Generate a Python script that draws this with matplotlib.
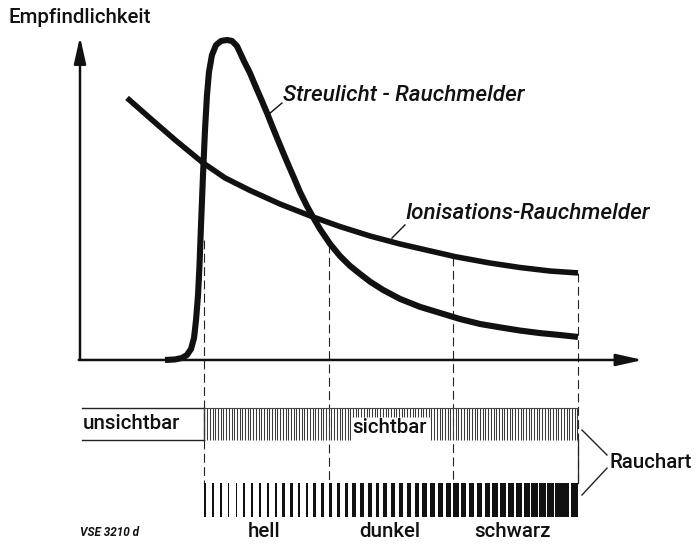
import numpy as np
import matplotlib
matplotlib.use("Agg")
import matplotlib.pyplot as plt

# sensitivity curves, x = smoke density (dashed marks at 1..4), y = Empfindlichkeit
streu_x = [0.683, 0.763, 0.819, 0.859, 0.892, 0.916, 0.932, 0.948, 0.960, 0.972,
           0.988, 1.004, 1.020, 1.036, 1.060, 1.092, 1.133, 1.181, 1.221, 1.261,
           1.317, 1.365, 1.406, 1.454, 1.502, 1.550, 1.606, 1.663, 1.719, 1.767,
           1.823, 1.871, 1.928, 2.008, 2.088, 2.169, 2.249, 2.329, 2.434, 2.570,
           2.731, 2.892, 3.052, 3.213, 3.373, 3.534, 3.695, 3.855, 4.0]
streu_y = [0.0, 0.016, 0.063, 0.156, 0.344, 0.688, 1.25, 2.03, 2.97, 4.22,
           5.78, 7.19, 8.28, 9.0, 9.53, 9.84, 9.97, 10.0, 9.97, 9.81,
           9.34, 8.97, 8.59, 8.16, 7.72, 7.25, 6.72, 6.19, 5.69, 5.25,
           4.81, 4.47, 4.09, 3.63, 3.25, 2.94, 2.69, 2.45, 2.19, 1.91,
           1.66, 1.47, 1.28, 1.125, 1.02, 0.92, 0.84, 0.78, 0.72]

ion_x = [0.378, 0.562, 0.763, 0.988, 1.165, 1.365, 1.606, 1.871, 2.088,
         2.329, 2.570, 2.811, 3.012, 3.293, 3.534, 3.775, 4.0]
ion_y = [8.19, 7.56, 6.88, 6.16, 5.69, 5.30, 4.875, 4.47, 4.17,
         3.875, 3.625, 3.41, 3.23, 3.03, 2.89, 2.78, 2.72]

# dashed guide lines: positions and where they start
guide_x = [1, 2, 3, 4]
guide_top = [3.75, 3.63, 3.23, 2.72]

smoke_labels = ["hell", "dunkel", "schwarz"]
smoke_label_x = [1.478, 2.49, 3.478]


def main():
    fig = plt.figure(figsize=(6.98, 5.51), dpi=100)
    ax = fig.add_axes([0, 0, 1, 1])
    ax.set_xlim(-0.6426, 4.964)
    ax.set_ylim(-5.97, 11.25)
    ax.axis("off")

    font = dict(family=["Roboto", "DejaVu Sans"], color="#111111", weight="medium")
    size = 14.8

    # axes with arrows
    arrow = dict(arrowstyle="-|>,head_length=0.8,head_width=0.18", mutation_scale=20,
                 lw=1.8, color="#111111", shrinkA=0, shrinkB=0)
    ax.annotate("", xy=(0.0, 10.1), xytext=(0.0, 0.0), arrowprops=arrow)
    ax.annotate("", xy=(4.52, 0.0), xytext=(-0.01, 0.0), arrowprops=arrow)

    # dashed guides
    for gx, gt in zip(guide_x, guide_top):
        ax.plot([gx, gx], [gt, -3.84], color="#222222", lw=0.8,
                dashes=(8, 4), zorder=1)
    ax.plot([4, 4], [-2.5, -3.84], color="#222222", lw=0.9, zorder=1)

    # curves
    ax.plot(ion_x, ion_y, color="#111111", lw=4.0, solid_capstyle="butt",
            solid_joinstyle="round", zorder=3)
    ax.plot(streu_x, streu_y, color="#111111", lw=4.4, solid_capstyle="butt",
            solid_joinstyle="round", zorder=3)

    # curve labels with leaders
    ax.plot([1.622, 1.51], [8.03, 7.66], color="#111111", lw=1.0)
    ax.text(1.631, 8.28, "Streulicht - Rauchmelder", fontsize=16.2,
            style="italic", va="center", ha="left", **font)
    ax.plot([2.610, 2.506], [4.22, 3.81], color="#111111", lw=1.0)
    ax.text(2.61, 4.59, "Ionisations-Rauchmelder", fontsize=16.2,
            style="italic", va="center", ha="left", **font)

    ax.text(-0.578, 10.69, "Empfindlichkeit", fontsize=size, va="center",
            ha="left", **font)

    # visibility bar
    top, bot, notch = -1.5, -2.5, -1.78
    ax.plot([0.016, 1], [top, top], color="#222222", lw=1.0)
    ax.plot([0.016, 1], [bot, bot], color="#222222", lw=1.0)
    ax.plot([1, 1], [top, bot], color="#222222", lw=1.0)
    ax.text(0.024, -2.0, "unsichtbar", fontsize=size, va="center", ha="left", **font)
    hatch = np.arange(1.0, 4.0 + 1e-9, 0.0217)
    in_notch = (hatch > 2.185) & (hatch < 2.811)
    ax.vlines(hatch[~in_notch], bot, top, color="#3a3a3a", lw=0.75, zorder=2)
    ax.vlines(hatch[in_notch], notch, top, color="#3a3a3a", lw=0.75, zorder=2)
    ax.plot([1, 4], [top, top], color="#444444", lw=0.8)
    ax.text(2.49, -2.125, "sichtbar", fontsize=size, va="center", ha="center", **font)

    # smoke colour bar
    n = 48
    pitch = 3.0 / n
    t = np.arange(n) / (n - 1)
    widths = pitch * (0.17 + 0.75 * t ** 1.15)
    lefts = 1.0 + np.arange(n) * pitch
    lefts[-1] = 4.0 - widths[-1]
    ax.bar(lefts, -4.91 + 3.84, bottom=-3.84, width=widths, align="edge",
           color="#111111", lw=0, zorder=2)
    for lbl, lx in zip(smoke_labels, smoke_label_x):
        ax.text(lx, -5.375, lbl, fontsize=size, va="center", ha="center", **font)

    # Rauchart bracket
    ax.plot([4.032, 4.233], [-2.19, -2.97], color="#222222", lw=1.0)
    ax.plot([4.032, 4.233], [-4.22, -3.38], color="#222222", lw=1.0)
    ax.text(4.257, -3.19, "Rauchart", fontsize=size, va="center", ha="left", **font)

    ax.text(0.0, -5.4, "VSE 3210 d", fontsize=8.5, style="italic", weight="bold",
            va="center", ha="left", family=["Roboto", "DejaVu Sans"], color="#111111")

    fig.savefig("out.png", dpi=100)


if __name__ == "__main__":
    main()
